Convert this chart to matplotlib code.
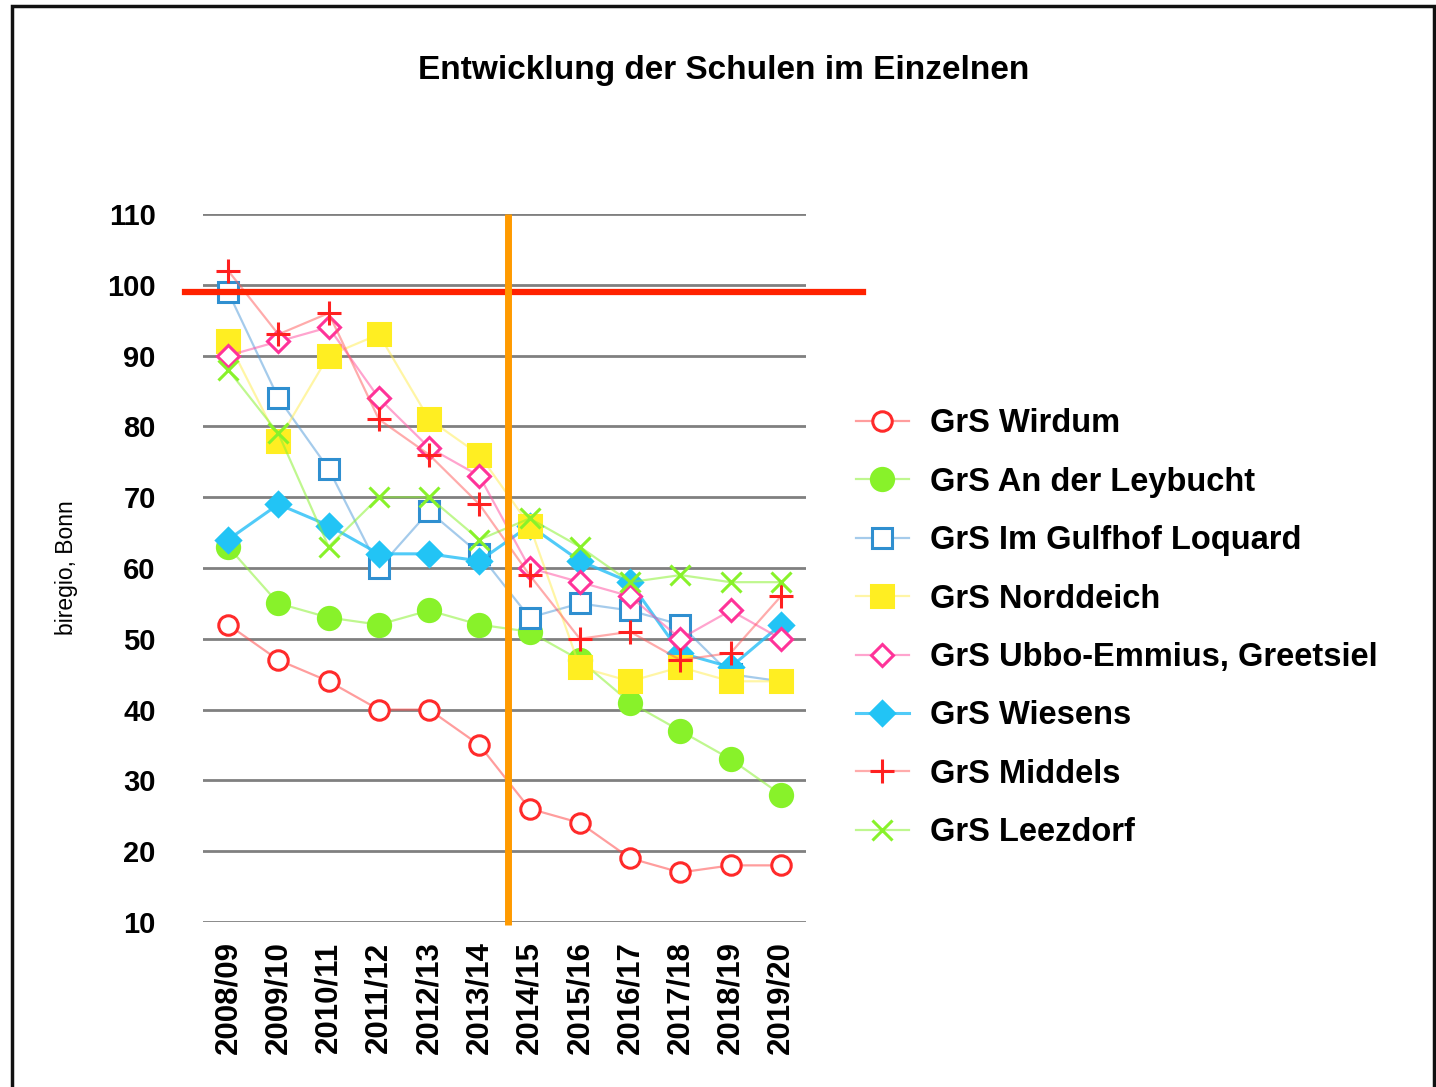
import matplotlib
matplotlib.use('Agg')
import matplotlib.pyplot as plt
from matplotlib.patches import Rectangle

plt.rcParams['font.family'] = ['Liberation Sans', 'DejaVu Sans']

# Schuljahre
years = ['2008/09', '2009/10', '2010/11', '2011/12', '2012/13', '2013/14',
         '2014/15', '2015/16', '2016/17', '2017/18', '2018/19', '2019/20']

# Schülerzahlen je Schule
wirdum = [52, 47, 44, 40, 40, 35, 26, 24, 19, 17, 18, 18]
leybucht = [63, 55, 53, 52, 54, 52, 51, 47, 41, 37, 33, 28]
gulfhof = [99, 84, 74, 60, 68, 62, 53, 55, 54, 52, 45, 44]
norddeich = [92, 78, 90, 93, 81, 76, 66, 46, 44, 46, 44, 44]
ubbo = [90, 92, 94, 84, 77, 73, 60, 58, 56, 50, 54, 50]
wiesens = [64, 69, 66, 62, 62, 61, 66, 61, 58, 48, 46, 52]
middels = [102, 93, 96, 81, 76, 69, 59, 50, 51, 47, 48, 56]
leezdorf = [88, 79, 63, 70, 70, 64, 67, 63, 58, 59, 58, 58]

# Hilfslinien
grenze = 99        # rote Linie
umbruch = 5.56     # orange Linie zwischen 2013/14 und 2014/15

fig = plt.figure(figsize=(14.36, 10.87), dpi=100)
ax = fig.add_axes([203 / 1436, 165 / 1087, 603 / 1436, 708 / 1087])

x = list(range(len(years)))

# (Werte, Name, Marker, Markerfarbe, gefuellt, Linienfarbe, Markergroesse, Zeichenreihenfolge)
reihen = [
    (wirdum, 'GrS Wirdum', 'o', '#ff2a2a', False, (1, 0.3, 0.3, 0.55), 14, 2.0),
    (leybucht, 'GrS An der Leybucht', 'o', '#88f22a', True, (0.55, 0.95, 0.2, 0.55), 16, 2.1),
    (gulfhof, 'GrS Im Gulfhof Loquard', 's', '#2f8fd0', False, (0.3, 0.6, 0.85, 0.5), 15, 2.2),
    (norddeich, 'GrS Norddeich', 's', '#ffee22', True, (1, 0.93, 0.3, 0.5), 16, 2.4),
    (ubbo, 'GrS Ubbo-Emmius, Greetsiel', 'D', '#ff3399', False, (1, 0.35, 0.65, 0.55), 11, 2.5),
    (wiesens, 'GrS Wiesens', 'D', '#22c4f5', True, (0.15, 0.75, 0.97, 0.8), 12, 2.3),
    (middels, 'GrS Middels', '+', '#ff2020', False, (1, 0.35, 0.35, 0.5), 17, 2.6),
    (leezdorf, 'GrS Leezdorf', 'x', '#88f22a', False, (0.55, 0.95, 0.2, 0.55), 15, 2.7),
]

for werte, name, m, mc, gefuellt, lc, ms, z in reihen:
    lw = 2.2 if name == 'GrS Wiesens' else 1.6
    ax.plot(x, werte, color=lc, lw=lw, marker=m, ms=ms,
            mec=mc, mfc=mc if gefuellt else 'white' if m in 'osD' else mc,
            mew=2.2, label=name, zorder=z)

ax.axhline(grenze, xmin=-0.03, xmax=1.094, color='#ff2200', lw=4.5,
           clip_on=False, zorder=5)
ax.plot([umbruch, umbruch], [110, 9.6], color='#ff9a00', lw=5, solid_capstyle='butt',
        clip_on=False, zorder=5)

ax.set_xlim(-0.5, 11.5)
ax.set_ylim(10, 110)
ax.set_yticks(range(10, 111, 10))
ax.set_xticks(x)
ax.set_xticklabels(years, rotation=90, fontsize=22.5, fontweight='bold')
for t in ax.get_yticklabels():
    t.set_fontsize(21)
    t.set_fontweight('bold')
ax.tick_params(length=0, pad=14)
ax.tick_params(axis='y', pad=34)
ax.grid(axis='y', color='#808080', lw=2)
ax.set_axisbelow(True)
for s in ax.spines.values():
    s.set_visible(False)

fig.text(67 / 1436, 1 - 568 / 1087, 'biregio, Bonn', rotation=90, fontsize=16.5,
         ha='center', va='center')
fig.text(724 / 1436, 1 - 70 / 1087, 'Entwicklung der Schulen im Einzelnen',
         fontsize=24, fontweight='bold', ha='center', va='center')

leg = fig.legend(loc='upper left', bbox_to_anchor=(827 / 1436, 1 - 379 / 1087),
                 frameon=False, handlelength=1.6, handletextpad=0.65,
                 labelspacing=0.84, prop={'size': 23.5, 'weight': 'bold'})

fig.patches.append(Rectangle((12 / 1436, -0.01), 1422 / 1436, 1.01 - 6 / 1087,
                             transform=fig.transFigure, fill=False,
                             edgecolor='#111111', lw=2.5))

fig.savefig('out.png', dpi=100)
